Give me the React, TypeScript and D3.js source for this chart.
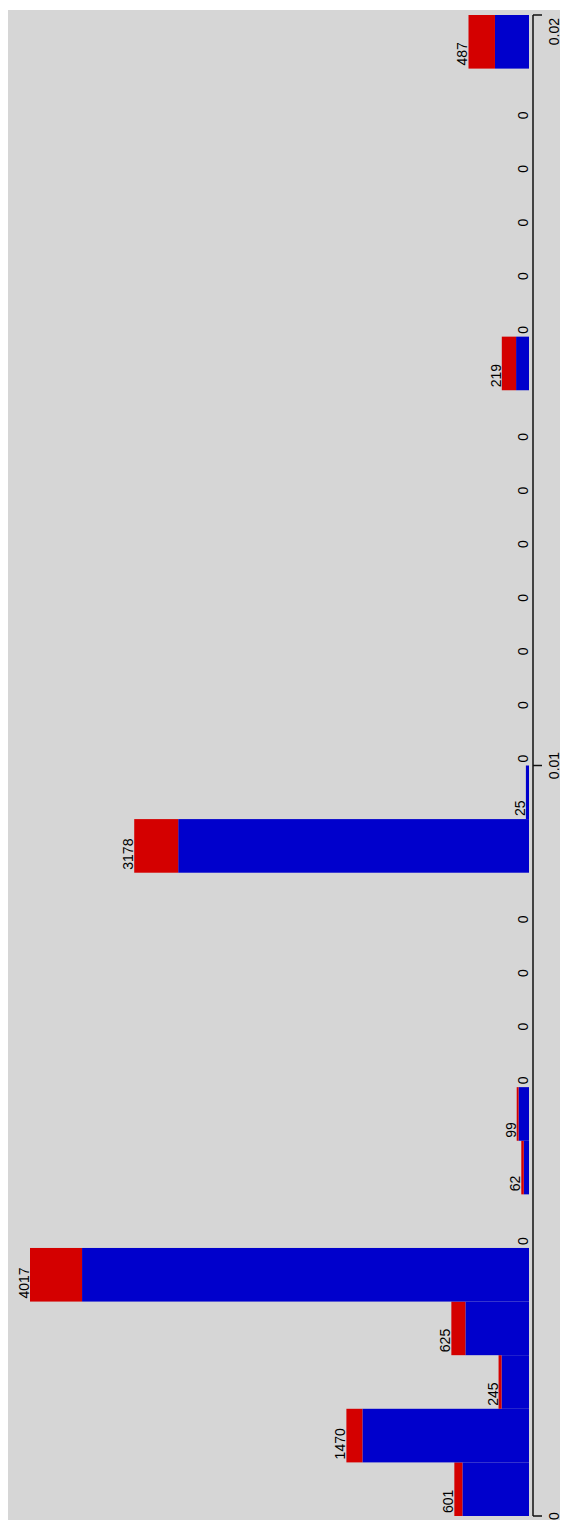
import React from "react";
import * as d3 from "d3";

// histogram bins, 0 .. 0.02 in 28 steps, blue = inner part, red = outer part
const binCount = 28;
const binMax = 0.02;
const blueCounts = [536, 1341, 221, 512, 3598, 0, 42, 84, 0, 0, 0, 0, 2824, 25, 0, 0, 0, 0, 0, 0, 0, 104, 0, 0, 0, 0, 0, 274];
const redCounts = [65, 129, 24, 113, 419, 0, 20, 15, 0, 0, 0, 0, 354, 0, 0, 0, 0, 0, 0, 0, 0, 115, 0, 0, 0, 0, 0, 213];
const axisTicks = [0, 0.01, 0.02];
const tickLabels = ["0", "0.01", "0.02"];

const W = 560;
const H = 1512;
const font = "'Liberation Sans', Arial, sans-serif";

export default function App() {
  const totals = blueCounts.map((b, i) => b + redCounts[i]);
  const maxTotal = d3.max(totals) as number;

  const y = d3.scaleLinear().domain([0, binMax]).range([1508, 7]);
  const x = d3.scaleLinear().domain([0, maxTotal]).range([521, 22]);
  const step = binMax / binCount;

  const bins = totals.map((t, i) => ({
    i,
    blue: blueCounts[i],
    red: redCounts[i],
    total: t,
    y0: y(i * step),
    y1: y((i + 1) * step),
  }));

  const axisX = 525;

  return (
    <svg width={W} height={H} style={{ display: "block" }}>
      <rect x={0} y={0} width={W} height={H} fill="#ffffff" />
      <rect x={0} y={2} width={552} height={H - 2} fill="#d6d6d6" />
      <rect x={552} y={2} width={8} height={H - 2} fill="#bdbdbd" />

      {bins.map(b => (
        <g key={b.i}>
          {b.blue > 0 && (
            <rect
              x={x(b.blue)}
              y={b.y1}
              width={x(0) - x(b.blue)}
              height={b.y0 - b.y1}
              fill="#0000cc"
            />
          )}
          {b.red > 0 && (
            <rect
              x={x(b.total)}
              y={b.y1}
              width={x(b.blue) - x(b.total)}
              height={b.y0 - b.y1}
              fill="#d40000"
            />
          )}
          <text
            x={x(b.total) - 1}
            y={b.y0 - 3}
            transform={`rotate(-90, ${x(b.total) - 1}, ${b.y0 - 3})`}
            fontFamily={font}
            fontSize={14}
            fill="#000"
          >
            {b.total}
          </text>
        </g>
      ))}

      <line x1={axisX} x2={axisX} y1={y(0)} y2={y(binMax)} stroke="#111" strokeWidth={1.5} />
      {axisTicks.map((t, i) => {
        const ty = y(t);
        const last = i === axisTicks.length - 1;
        const ly = last ? ty + 3 : ty;
        return (
          <g key={t}>
            <line x1={axisX} x2={axisX + 9} y1={ty} y2={ty} stroke="#111" strokeWidth={1.5} />
            <text
              x={550.5}
              y={ly}
              transform={`rotate(-90, 550.5, ${ly})`}
              textAnchor={last ? "end" : "middle"}
              fontFamily={font}
              fontSize={14}
              fill="#000"
            >
              {tickLabels[i]}
            </text>
          </g>
        );
      })}
    </svg>
  );
}
